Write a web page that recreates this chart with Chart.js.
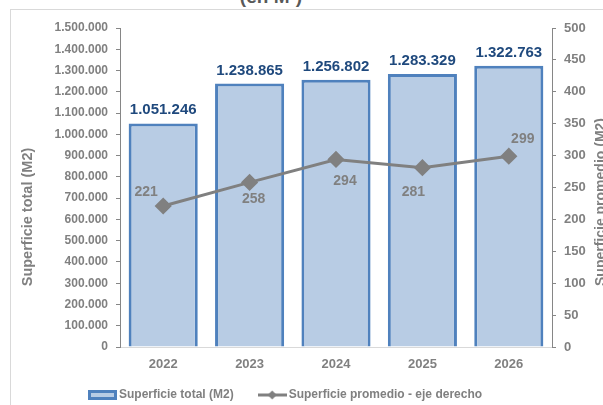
<!DOCTYPE html>
<html><head><meta charset="utf-8">
<script src="https://cdn.jsdelivr.net/npm/chart.js@4"></script>
<style>
html,body{margin:0;padding:0;background:#fff;overflow:hidden;width:603px;height:405px;position:relative}
#frame{position:absolute;left:10px;top:9px;width:700px;height:500px;border:1px solid #d9d9d9;box-sizing:border-box}
#title{position:absolute;left:171px;width:200px;top:-14px;text-align:center;font:bold 19px "Liberation Sans",Arial,sans-serif;color:#595959;line-height:22px}
#wrap{position:absolute;left:0;top:0;width:615px;height:405px}
</style></head>
<body>
<div id="frame"></div>
<div id="title">(en M²)</div>
<div id="wrap"><canvas id="c" width="615" height="405"></canvas></div>
<script>
const categories = ['2022', '2023', '2024', '2025', '2026'];
const superficieTotal = [1051246, 1238865, 1256802, 1283329, 1322763];
const superficiePromedio = [221, 258, 294, 281, 299];
const leftTicks = [0, 1500000, 100000];   // min, max, step
const rightTicks = [0, 500, 50];
const seriesNames = ['Superficie total (M2)', 'Superficie promedio - eje derecho'];
const axisTitles = ['Superficie total (M2)', 'Superficie promedio (M2)'];

const FONT = '"Liberation Sans", Arial, sans-serif';
const GREY = '#808080';
const fmt = n => String(n).replace(/\B(?=(\d{3})+(?!\d))/g, '.');

function boxImg() {
  const c = document.createElement('canvas'); c.width = 29; c.height = 10;
  const x = c.getContext('2d');
  x.fillStyle = '#4f81bd'; x.fillRect(0, 0, 29, 10);
  x.fillStyle = '#b8cce4'; x.fillRect(3, 3, 23, 4);
  return c;
}
function lineImg() {
  const c = document.createElement('canvas'); c.width = 29; c.height = 12;
  const x = c.getContext('2d');
  x.strokeStyle = '#808080'; x.lineWidth = 3;
  x.beginPath(); x.moveTo(0, 6); x.lineTo(29, 6); x.stroke();
  x.fillStyle = '#808080';
  x.beginPath(); x.moveTo(14.5, 1.5); x.lineTo(19, 6); x.lineTo(14.5, 10.5); x.lineTo(10, 6); x.closePath(); x.fill();
  return c;
}
const legendImgs = [boxImg(), lineImg()];

// label offsets (dx, baseline dy) relative to each line point
const lineLabelOffsets = [[-17, -10], [4, 21], [9, 26], [-9, 28], [14, -13]];

const labelsPlugin = {
  id: 'labels',
  afterLayout(chart) {
    const lg = chart.legend;
    const pad = lg.options.labels.padding;
    lg.left = 92 - pad; lg.right = 615;
    lg.top = 389 - pad; lg.bottom = 405;
  },
  afterDatasetsDraw(chart) {
    const ctx = chart.ctx;
    ctx.save();
    ctx.textAlign = 'center';
    ctx.textBaseline = 'alphabetic';
    const bars = chart.getDatasetMeta(1).data;
    ctx.font = 'bold 15px ' + FONT;
    ctx.fillStyle = '#1f497d';
    bars.forEach((el, i) => ctx.fillText(fmt(superficieTotal[i]), el.x, el.y - 9));
    const pts = chart.getDatasetMeta(0).data;
    ctx.font = 'bold 14px ' + FONT;
    ctx.fillStyle = GREY;
    pts.forEach((el, i) => ctx.fillText(String(superficiePromedio[i]), el.x + lineLabelOffsets[i][0], el.y + lineLabelOffsets[i][1]));
    ctx.restore();
  },
  afterDraw(chart) {
    const ctx = chart.ctx;
    ctx.save();
    ctx.fillStyle = GREY;
    ctx.textAlign = 'center';
    ctx.textBaseline = 'middle';
    ctx.save();
    ctx.font = 'bold 14.5px ' + FONT;
    ctx.translate(28, 217);
    ctx.rotate(-Math.PI / 2);
    ctx.fillText(axisTitles[0], 0, 0);
    ctx.restore();
    ctx.font = 'bold 14px ' + FONT;
    ctx.translate(601, 202);
    ctx.rotate(-Math.PI / 2);
    ctx.fillText(axisTitles[1], 0, 0);
    ctx.restore();
  }
};

new Chart(document.getElementById('c'), {
  data: {
    labels: categories,
    datasets: [
      {
        type: 'line', label: seriesNames[1], data: superficiePromedio, yAxisID: 'y1',
        borderColor: '#808080', backgroundColor: '#808080', borderWidth: 3,
        pointStyle: 'rectRot', pointRadius: 6.5, pointHoverRadius: 6.5, order: 0
      },
      {
        type: 'bar', label: seriesNames[0], data: superficieTotal, yAxisID: 'y',
        backgroundColor: '#b8cce4', borderColor: '#4f81bd', borderWidth: 3,
        categoryPercentage: 1, barPercentage: 0.8, order: 1
      }
    ]
  },
  options: {
    responsive: false, animation: false,
    layout: { padding: { left: 16, right: 0, top: 28, bottom: 0 } },
    plugins: {
      tooltip: { enabled: false },
      legend: {
        position: 'bottom', align: 'start', maxHeight: 28,
        labels: {
          usePointStyle: true, pointStyleWidth: 21, boxWidth: 21, boxHeight: 10, padding: 28,
          font: { family: FONT, size: 12, weight: 'bold' }, color: GREY,
          generateLabels: () => [
            { text: seriesNames[0], pointStyle: legendImgs[0], fontColor: GREY, datasetIndex: 1, lineWidth: 0 },
            { text: seriesNames[1], pointStyle: legendImgs[1], fontColor: GREY, datasetIndex: 0, lineWidth: 0 }
          ]
        }
      }
    },
    scales: {
      x: {
        offset: true,
        grid: { display: false },
        border: { color: '#d9d9d9' },
        ticks: { color: GREY, font: { family: FONT, size: 13, weight: 'bold' }, padding: 2 },
        afterFit: s => { s.height = 30; }
      },
      y: {
        position: 'left', min: leftTicks[0], max: leftTicks[1],
        ticks: { stepSize: leftTicks[2], color: GREY, font: { family: FONT, size: 12, weight: 'bold' }, padding: 8, callback: v => fmt(v) },
        grid: { drawOnChartArea: false, tickLength: 4, color: '#868686' },
        border: { color: '#868686' },
        afterFit: s => { s.width = 104; }
      },
      y1: {
        position: 'right', min: rightTicks[0], max: rightTicks[1],
        ticks: { stepSize: rightTicks[2], color: GREY, font: { family: FONT, size: 13, weight: 'bold' }, padding: 8 },
        grid: { drawOnChartArea: false, tickLength: 4, color: '#868686' },
        border: { color: '#868686' },
        afterFit: s => { s.width = 63; }
      }
    }
  },
  plugins: [labelsPlugin]
});
</script>
</body></html>
